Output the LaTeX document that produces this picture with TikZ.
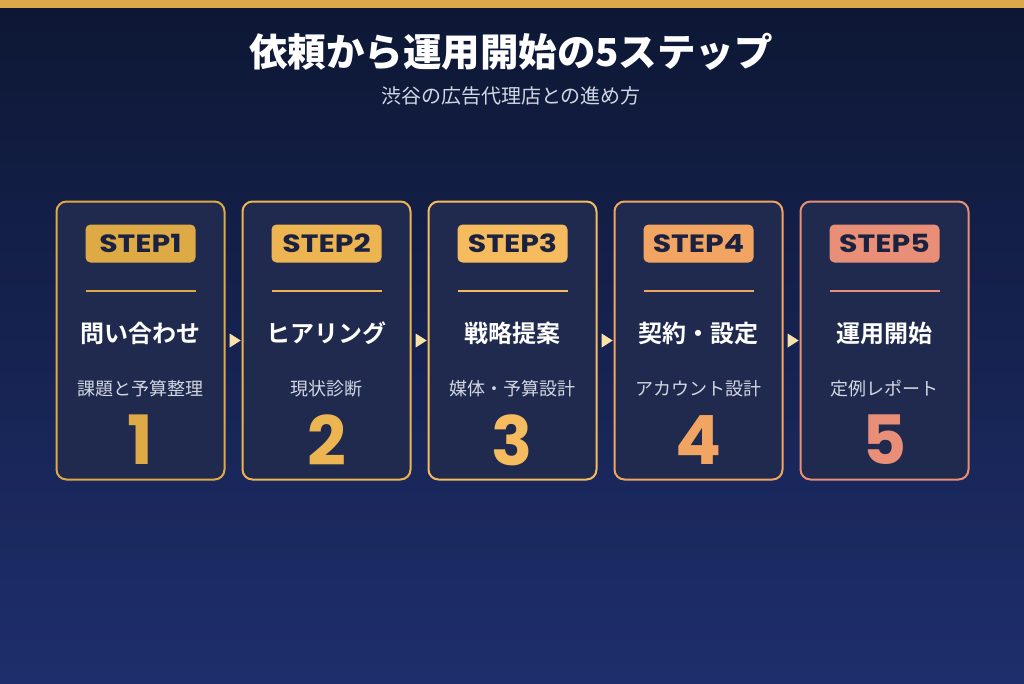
\documentclass[tikz,border=0pt]{standalone}
\usepackage{fontspec}
\setmainfont{Noto Sans CJK JP}[BoldFont={Noto Sans CJK JP Bold}]
\newfontfamily\heavyfont{Noto Sans CJK JP Black}
\newfontfamily\latinfont{Poppins}[BoldFont={Poppins Bold}]
\newfontfamily\badgefont{Poppins Bold}[FakeStretch=1.2]
\usetikzlibrary{shapes.geometric,calc}
\definecolor{bgtop}{HTML}{0D1734}
\definecolor{bgbot}{HTML}{1E2E6C}
\definecolor{gold}{HTML}{DDA84A}
\definecolor{cardfill}{HTML}{1F2A4E}
\definecolor{badgetext}{HTML}{1A2240}
\definecolor{subgray}{HTML}{D3D7E3}
\definecolor{arrowc}{HTML}{F8E2A9}
\definecolor{cA}{HTML}{DDAA45}
\definecolor{cB}{HTML}{EDB452}
\definecolor{cC}{HTML}{F5BB5E}
\definecolor{cD}{HTML}{F2A463}
\definecolor{cE}{HTML}{E98F77}
\tikzset{
  card/.style={draw=#1, line width=2pt, fill=cardfill, rounded corners=10pt,
    minimum width=168pt, minimum height=278pt, inner sep=0pt},
  badge/.style={fill=#1, rounded corners=5pt, minimum width=110pt, minimum height=38pt,
    inner sep=0pt, text=badgetext, font=\badgefont\fontsize{25}{25}\selectfont},
  steptitle/.style={text=white, font=\bfseries\fontsize{24}{24}\selectfont, inner sep=0pt},
  stepsub/.style={text=subgray, font=\fontsize{18}{18}\selectfont, inner sep=0pt},
  bignum/.style={text=#1, font=\latinfont\bfseries\fontsize{68}{68}\selectfont, inner sep=0pt},
  arrowtri/.style={isosceles triangle, isosceles triangle apex angle=65, fill=arrowc,
    minimum height=11pt, inner sep=0pt},
}
\begin{document}
\begin{tikzpicture}[x=1pt,y=-1pt]
\useasboundingbox (0,0) rectangle (1024,683);
\shade[top color=bgtop, bottom color=bgbot] (0,0) rectangle (1024,683);
\fill[gold] (0,0) rectangle (1024,8);
\node[text=white, font=\heavyfont\fontsize{38.5}{38.5}\selectfont, inner sep=0pt] (title) at (511,52) {依頼から運用開始の5ステップ};
\node[text=subgray, font=\fontsize{20}{20}\selectfont, inner sep=0pt] (subtitle) at (511,96) {渋谷の広告代理店との進め方};
\foreach \i/\col/\t/\s in {1/cA/問い合わせ/課題と予算整理, 2/cB/ヒアリング/現状診断, 3/cC/戦略提案/媒体・予算設計, 4/cD/契約・設定/アカウント設計, 5/cE/運用開始/定例レポート}{
  \pgfmathsetmacro{\cx}{140.5+186*(\i-1)}
  \node[card=\col] (c\i) at (\cx,340.5) {};
  \node[badge=\col] (b\i) at (\cx,243.5) {STEP\i};
  \draw[\col, line width=2pt] (\cx-55,290.5) -- (\cx+55,290.5);
  \node[steptitle] (t\i) at (\cx,333) {\t};
  \node[stepsub] (s\i) at (\cx,389) {\s};
  \node[bignum=\col] (n\i) at (\cx,440) {\i};
}
\foreach \a/\b in {1/2,2/3,3/4,4/5}{
  \path (c\a.east) -- (c\b.west) node[midway, arrowtri] (ar\a) {};
}
\end{tikzpicture}
\end{document}
